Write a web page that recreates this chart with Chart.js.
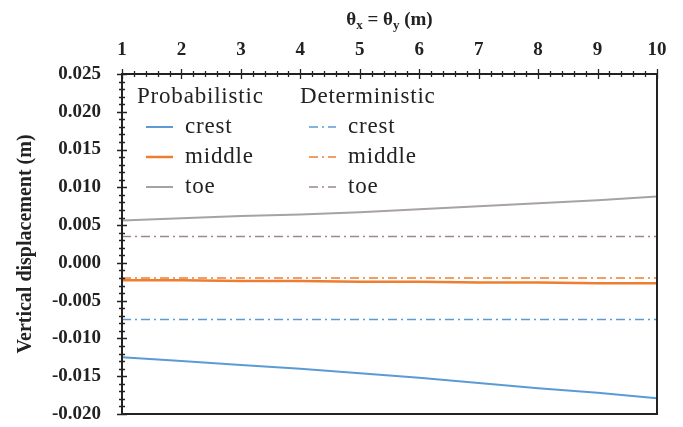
<!DOCTYPE html>
<html>
<head>
<meta charset="utf-8">
<script src="https://cdn.jsdelivr.net/npm/chart.js@4/dist/chart.umd.min.js"></script>
<style>
  html, body { margin: 0; padding: 0; background: #fff; }
  #wrap { width: 683px; height: 427px; }
</style>
</head>
<body>
<div id="wrap"><canvas id="myChart"></canvas></div>
<script>
// data
var thetaValues = [1, 2, 3, 4, 5, 6, 7, 8, 9, 10];
var probCrest  = [-0.0125, -0.0130, -0.0135, -0.0140, -0.0146, -0.0152, -0.0159, -0.0166, -0.0172, -0.0179];
var probMiddle = [-0.0023, -0.0023, -0.0024, -0.0024, -0.0025, -0.0025, -0.0026, -0.0026, -0.0027, -0.0027];
var probToe    = [0.0056, 0.0059, 0.0062, 0.0064, 0.0067, 0.0071, 0.0075, 0.0079, 0.0083, 0.0088];
var detCrest   = [-0.0075, -0.0075, -0.0075, -0.0075, -0.0075, -0.0075, -0.0075, -0.0075, -0.0075, -0.0075];
var detMiddle  = [-0.0020, -0.0020, -0.0020, -0.0020, -0.0020, -0.0020, -0.0020, -0.0020, -0.0020, -0.0020];
var detToe     = [0.0035, 0.0035, 0.0035, 0.0035, 0.0035, 0.0035, 0.0035, 0.0035, 0.0035, 0.0035];
var seriesNames = ['crest', 'middle', 'toe'];
var groupNames = ['Probabilistic', 'Deterministic'];
var yTicks = [-0.020, -0.015, -0.010, -0.005, 0.000, 0.005, 0.010, 0.015, 0.020, 0.025];

var BLUE = '#5b9bd5', ORANGE = '#ed7d31', GRAY = '#a8a2a2', BROWN = '#9a8a86';
var DASHDOT = [9, 4, 2, 4];

function pts(arr){
  return thetaValues.map(function(x, i){ return {x: x, y: arr[i]}; });
}
function ds(label, arr, color, dash, width){
  return {label: label, data: pts(arr), borderColor: color, backgroundColor: color,
    borderWidth: width, borderDash: dash, pointRadius: 0, tension: 0, fill: false};
}

var serif = "'Liberation Serif', 'DejaVu Serif', serif";

var decoPlugin = {
  id: 'deco',
  afterDraw: function(chart){
    var ctx = chart.ctx, a = chart.chartArea;
    var xs = chart.scales.x, ys = chart.scales.y;
    ctx.save();
    // frame
    ctx.strokeStyle = '#222';
    ctx.lineWidth = 2;
    ctx.strokeRect(a.left, a.top, a.right - a.left, a.bottom - a.top);
    // ticks on top axis
    ctx.lineWidth = 1.3;
    ctx.beginPath();
    for (var i = 0; i <= 45; i++) {
      var v = 1 + i * 0.2;
      var px = Math.round(xs.getPixelForValue(v)) + 0.5;
      var len = (i % 5 === 0) ? 5 : 3;
      ctx.moveTo(px, a.top - len); ctx.lineTo(px, a.top + len);
    }
    // ticks on left axis
    for (var j = 0; j <= 45; j++) {
      var val = -0.020 + j * 0.001;
      var py = Math.round(ys.getPixelForValue(val)) + 0.5;
      var l2 = (j % 5 === 0) ? 5 : 3;
      ctx.moveTo(a.left - l2, py); ctx.lineTo(a.left + l2, py);
    }
    ctx.stroke();

    // x axis title with subscripts
    ctx.fillStyle = '#222';
    ctx.textBaseline = 'alphabetic';
    var big = 'bold 19px ' + serif, small = 'bold 13px ' + serif;
    var parts = [['\u03b8', big, 0], ['x', small, 4], [' = \u03b8', big, 0], ['y', small, 4], [' (m)', big, 0]];
    var total = 0;
    parts.forEach(function(p){ ctx.font = p[1]; total += ctx.measureText(p[0]).width; });
    var cx = (a.left + a.right) / 2 - total / 2, base = 25;
    parts.forEach(function(p){
      ctx.font = p[1];
      ctx.fillText(p[0], cx, base + p[2]);
      cx += ctx.measureText(p[0]).width;
    });

    // legend, two columns
    var sets = chart.data.datasets;
    var cols = [137, 300];
    var rowY = [97, 127, 157, 187];
    ctx.font = '23px ' + serif;
    ctx.letterSpacing = '0.8px';
    ctx.textBaseline = 'middle';
    ctx.fillStyle = '#222';
    for (var c = 0; c < 2; c++) {
      ctx.fillText(groupNames[c], cols[c], rowY[0]);
      for (var r = 0; r < 3; r++) {
        var d = sets[c * 3 + r];
        var y0 = rowY[r + 1];
        ctx.strokeStyle = d.borderColor;
        ctx.lineWidth = d.borderWidth;
        ctx.setLineDash(d.borderDash || []);
        ctx.beginPath();
        ctx.moveTo(cols[c] + 9, y0); ctx.lineTo(cols[c] + 36, y0);
        ctx.stroke();
        ctx.setLineDash([]);
        ctx.fillText(seriesNames[r], cols[c] + 48, y0);
      }
    }
    ctx.restore();
  }
};

var ctx = document.getElementById('myChart').getContext('2d');
var myChart = new Chart(ctx, {
  type: 'line',
  data: {
    datasets: [
      ds('Probabilistic crest', probCrest, BLUE, [], 2),
      ds('Probabilistic middle', probMiddle, ORANGE, [], 2.5),
      ds('Probabilistic toe', probToe, GRAY, [], 2),
      ds('Deterministic crest', detCrest, BLUE, DASHDOT, 1.5),
      ds('Deterministic middle', detMiddle, ORANGE, DASHDOT, 1.5),
      ds('Deterministic toe', detToe, BROWN, DASHDOT, 1.5)
    ]
  },
  options: {
    responsive: true,
    maintainAspectRatio: false,
    animation: false,
    layout: { padding: { left: 0, right: 26, top: 0, bottom: 13 } },
    plugins: { legend: { display: false }, tooltip: { enabled: false } },
    scales: {
      x: {
        type: 'linear',
        position: 'top',
        min: 1, max: 10,
        afterFit: function(s){ s.height = 74; s.paddingLeft = 0; s.paddingRight = 0; },
        ticks: { stepSize: 1, color: '#222', padding: 13,
          font: { family: serif, size: 19, weight: 'bold' } },
        grid: { display: false, drawTicks: false },
        border: { display: false }
      },
      y: {
        min: -0.020, max: 0.025,
        afterFit: function(s){ s.width = 122; s.paddingTop = 0; s.paddingBottom = 0; },
        afterBuildTicks: function(s){ s.ticks = yTicks.map(function(v){ return {value: v}; }); },
        ticks: { color: '#222', padding: 21,
          font: { family: serif, size: 19, weight: 'bold' },
          callback: function(v){ return v.toFixed(3); } },
        title: { display: true, text: 'Vertical displacement (m)', color: '#222',
          font: { family: serif, size: 20, weight: 'bold' }, padding: { top: 14 } },
        grid: { display: false, drawTicks: false },
        border: { display: false }
      }
    }
  },
  plugins: [decoPlugin]
});
</script>
</body>
</html>
